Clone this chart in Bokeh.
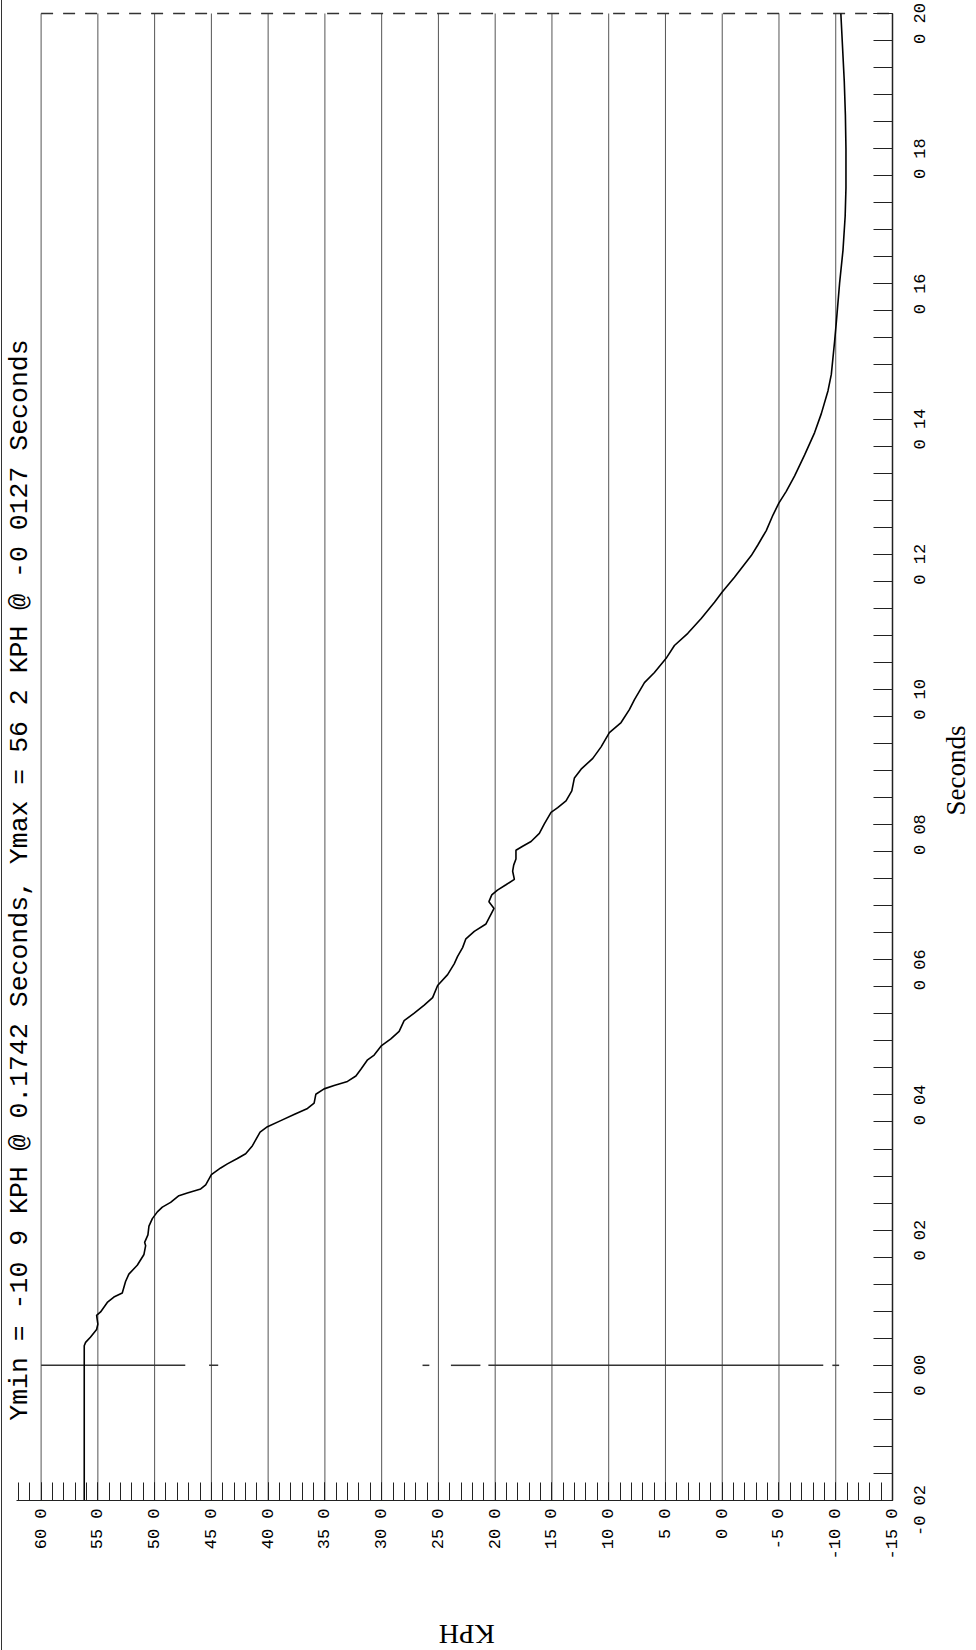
import math
from bokeh.plotting import figure
from bokeh.models import Range1d, FixedTicker, Label
from bokeh.core.properties import value
from bokeh.embed import file_html
from bokeh.resources import INLINE

# ---------------- data ----------------
time_s = [-0.0200, 0.0029, 0.0034, 0.0042, 0.0053, 0.0061, 0.0074, 0.0079, 0.0093, 0.0101,
          0.0107, 0.0124, 0.0135, 0.0148, 0.0164, 0.0177, 0.0182, 0.0193, 0.0206, 0.0217,
          0.0227, 0.0234, 0.0241, 0.0251, 0.0255, 0.0261, 0.0267, 0.0282, 0.0292, 0.0298,
          0.0306, 0.0313, 0.0325, 0.0345, 0.0353, 0.0362, 0.0371, 0.0380, 0.0388, 0.0401,
          0.0409, 0.0414, 0.0420, 0.0428, 0.0438, 0.0452, 0.0459, 0.0473, 0.0483, 0.0494,
          0.0510, 0.0521, 0.0533, 0.0544, 0.0562, 0.0578, 0.0594, 0.0605, 0.0618, 0.0631,
          0.0642, 0.0653, 0.0676, 0.0686, 0.0696, 0.0703, 0.0711, 0.0719, 0.0731, 0.0740,
          0.0749, 0.0762, 0.0768, 0.0775, 0.0787, 0.0801, 0.0818, 0.0825, 0.0835, 0.0850,
          0.0869, 0.0882, 0.0898, 0.0915, 0.0936, 0.0951, 0.0970, 0.0985, 0.1010, 0.1025,
          0.1046, 0.1065, 0.1083, 0.1105, 0.1129, 0.1144, 0.1166, 0.1198, 0.1214, 0.1235,
          0.1258, 0.1276, 0.1293, 0.1316, 0.1347, 0.1380, 0.1408, 0.1442, 0.1466, 0.1515,
          0.1543, 0.1601, 0.1650, 0.1700, 0.1742, 0.1800, 0.1850, 0.1900, 0.1950, 0.2000]
speed_kph = [56.20, 56.20, 56.08, 55.64, 55.11, 55.00, 55.11, 54.76, 54.17, 53.59,
             52.85, 52.56, 52.27, 51.53, 50.94, 50.79, 50.88, 50.59, 50.50, 50.20,
             49.76, 49.32, 48.59, 47.86, 47.12, 45.94, 45.50, 45.00, 44.18, 43.59,
             42.71, 41.98, 41.38, 40.71, 40.06, 38.89, 37.72, 36.53, 35.95, 35.80,
             35.07, 34.19, 33.01, 32.27, 31.83, 31.24, 30.66, 30.01, 29.19, 28.46,
             28.02, 27.13, 26.25, 25.51, 25.07, 24.19, 23.61, 23.31, 22.87, 22.58,
             21.84, 20.81, 20.10, 20.55, 20.30, 19.80, 19.05, 18.31, 18.46, 18.37,
             18.17, 18.17, 17.58, 16.84, 16.11, 15.67, 15.08, 14.49, 13.76, 13.25,
             13.02, 12.43, 11.40, 10.67, 9.94, 8.91, 8.18, 7.73, 6.85, 5.97,
             4.94, 4.21, 3.03, 1.85, 0.68, 0.00, -1.08, -2.56, -3.15, -3.88,
             -4.47, -5.00, -5.64, -6.38, -7.26, -8.14, -8.73, -9.32, -9.61, -9.90,
             -10.05, -10.34, -10.64, -10.83, -10.90, -10.90, -10.85, -10.75, -10.60, -10.45]

kph_ticks = [60, 55, 50, 45, 40, 35, 30, 25, 20, 15, 10, 5, 0, -5, -10, -15]
kph_tick_labels = ["60 0", "55 0", "50 0", "45 0", "40 0", "35 0", "30 0", "25 0",
                   "20 0", "15 0", "10 0", "5 0", "0 0", "-5 0", "-10 0", "-15 0"]
kph_minor_ticks = list(range(-15, 63))

sec_ticks = [-0.02, 0.0, 0.02, 0.04, 0.06, 0.08, 0.10, 0.12, 0.14, 0.16, 0.18, 0.20]
sec_tick_labels = ["-0 02", "0 00", "0 02", "0 04", "0 06", "0 08",
                   "0 10", "0 12", "0 14", "0 16", "0 18", "0 20"]
sec_minor_ticks = [round(-0.02 + 0.004 * i, 3) for i in range(56)]

cursor_time = 0.0
cursor_from_kph = [60.0, 45.2, 26.4, 23.9, 20.6, -9.7]
cursor_to_kph = [47.3, 44.4, 25.8, 21.3, -8.9, -10.3]

title_text = "Ymin = -10 9 KPH @ 0.1742 Seconds, Ymax = 56 2 KPH @ -0 0127 Seconds"
x_label = "KPH"
y_label = "Seconds"

# plotted extent of the axes
kph_lo, kph_hi = kph_ticks[-1], kph_ticks[0]
sec_lo, sec_hi = sec_ticks[0], sec_ticks[-1]

# ---------------- figure ----------------
# The frame fills the whole canvas; the axes are pinned to the data edges so
# that all rotated texts can be placed exactly.
PX_PER_KPH = 11.352
PX_PER_SEC = 6759.1
W, H = 973, 1650
x_start = kph_hi + (40.6 - 2) / PX_PER_KPH
x_end = x_start - W / PX_PER_KPH
y_end = sec_hi + 13 / PX_PER_SEC
y_start = y_end - H / PX_PER_SEC

p = figure(width=W, height=H, output_backend="svg", toolbar_location=None,
           x_range=Range1d(x_start, x_end), y_range=Range1d(y_start, y_end),
           y_axis_location="right",
           min_border_left=0, min_border_right=0, min_border_top=0, min_border_bottom=0,
           styles={"margin-left": "1px", "border-left": "1px solid #333"})
p.outline_line_color = None
p.background_fill_color = "white"
p.border_fill_color = "white"
for g in p.grid:
    g.visible = False

def style_axis(ax, tick_in):
    ax.major_tick_in = tick_in
    ax.major_tick_out = 0
    ax.minor_tick_in = tick_in
    ax.minor_tick_out = 0
    ax.major_label_text_font_size = "0px"
    ax.major_label_text_color = None
    ax.major_label_standoff = 0
    ax.axis_line_color = "#222"
    ax.major_tick_line_color = "#222"
    ax.minor_tick_line_color = "#222"

xa = p.xaxis[0]
xa.ticker = FixedTicker(ticks=kph_ticks, minor_ticks=kph_minor_ticks)
xa.fixed_location = sec_lo
xa.bounds = (kph_lo, 62.2)
style_axis(xa, 18)

ya = p.yaxis[0]
ya.ticker = FixedTicker(ticks=sec_ticks, minor_ticks=sec_minor_ticks)
ya.fixed_location = kph_lo
ya.bounds = (sec_lo, sec_hi)
style_axis(ya, 19)
ya.axis_line_width = 1.5

# vertical grid lines at the KPH ticks
p.segment(x0=kph_ticks, x1=kph_ticks, y0=[sec_lo] * len(kph_ticks), y1=[sec_hi] * len(kph_ticks),
          line_color="#555", line_width=1)

# top border (broken in the scan)
p.line(x=[kph_hi, kph_lo], y=[sec_hi, sec_hi], line_color="#333", line_width=1.5, line_dash="12 10")

# cursor line at t = 0
p.segment(x0=cursor_from_kph, x1=cursor_to_kph,
          y0=[cursor_time] * len(cursor_from_kph), y1=[cursor_time] * len(cursor_from_kph),
          line_color="#333", line_width=1.5)

# speed curve
p.line(x=speed_kph, y=time_s, line_color="black", line_width=1.6)

# tick labels (rotated like the reference)
p.text(x=kph_ticks, y=[sec_lo] * len(kph_ticks), text=kph_tick_labels,
       angle=math.pi / 2, text_align="right", text_baseline="middle", y_offset=8,
       text_font=value("Liberation Mono"), text_font_size="17px", text_color="black")
p.text(x=[kph_lo] * len(sec_ticks), y=sec_ticks, text=sec_tick_labels,
       angle=math.pi / 2, text_align="center", text_baseline="middle", x_offset=28, y_offset=10,
       text_font=value("Liberation Mono"), text_font_size="17px", text_color="black")

# axis titles
p.add_layout(Label(x=-20.55, y=0.088, text=y_label, angle=math.pi / 2,
                   text_align="center", text_baseline="alphabetic",
                   text_font="Liberation Serif", text_font_size="27px", text_color="black"))
p.add_layout(Label(x=22.5, y=-0.0398, text=x_label, angle=math.pi,
                   text_align="center", text_baseline="alphabetic",
                   text_font="Liberation Serif", text_font_size="28px", text_color="black"))

# title (rotated, along the left edge)
p.add_layout(Label(x=61.9, y=-0.0082, text=title_text, angle=math.pi / 2,
                   text_align="left", text_baseline="alphabetic",
                   text_font="Liberation Mono", text_font_size="26.5px", text_color="black"))

open("out.html", "w").write(file_html(p, INLINE))
